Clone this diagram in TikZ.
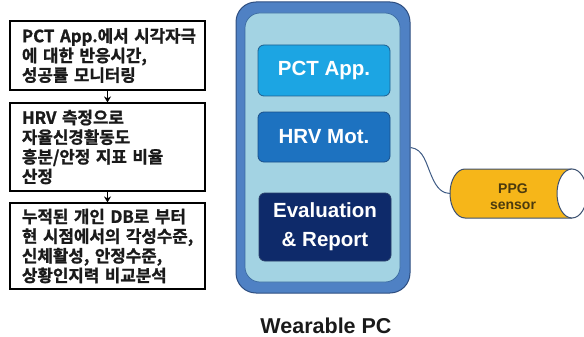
\documentclass[tikz,border=0pt]{standalone}
\usepackage{fontspec}
\setmainfont{Liberation Sans}
\newfontfamily\kr{Noto Sans CJK KR Bold}[FakeBold=1.2, WordSpace=1.6]
\usetikzlibrary{arrows.meta}
\definecolor{bandc}{HTML}{4F81C4}
\definecolor{bandd}{HTML}{2E4E80}
\definecolor{innerc}{HTML}{A3D3E3}
\definecolor{innerd}{HTML}{3A6AA0}
\definecolor{pctc}{HTML}{1CA5E3}
\definecolor{pctd}{HTML}{1F5F8F}
\definecolor{hrvc}{HTML}{1D72C0}
\definecolor{hrvd}{HTML}{1A4F8A}
\definecolor{evalc}{HTML}{0E2A6A}
\definecolor{evald}{HTML}{2A3F6A}
\definecolor{ppgc}{HTML}{F6B619}
\definecolor{ppgd}{HTML}{3C5070}
\definecolor{ppgt}{HTML}{4B3A0E}
\definecolor{wirec}{HTML}{3F5C85}
\definecolor{txt}{HTML}{1A1A1A}
\begin{document}
\begin{tikzpicture}[x=1pt,y={(0pt,-1pt)},
  lbox/.style={draw=black, line width=1.1pt, fill=white, text=txt,
    text width=171pt, inner xsep=12pt, inner ysep=0pt, align=left,
    minimum width=195pt, font=\kr\fontsize{16.8}{19.6}\selectfont},
  rbox/.style={rounded corners=6pt, line width=0.8pt, text=white,
    minimum width=132pt, align=center, inner sep=0pt,
    font=\bfseries\fontsize{20.5}{29}\selectfont},
  flowarrow/.style={line width=1pt, -{Stealth[length=6pt,width=7pt]}}
]
\useasboundingbox (0,0) rectangle (584,337);
\clip (0,0) rectangle (584,337);

% left flow
\node[lbox, minimum height=69pt] (b1) at (107.5,55.5)
  {\mbox{PCT App.에서 시각자극}\\\mbox{에 대한 반응시간,}\\\mbox{성공률 모니터링}};
\node[lbox, minimum height=88pt] (b2) at (107.5,147)
  {\mbox{HRV 측정으로}\\\mbox{자율신경활동도}\\\mbox{흥분/안정 지표 비율}\\\mbox{산정}};
\node[lbox, minimum height=86pt] (b3) at (107.5,246)
  {\mbox{누적된 개인 DB로 부터}\\\mbox{현 시점에서의 각성수준,}\\\mbox{신체활성, 안정수준,}\\\mbox{상황인지력 비교분석}};
\draw[flowarrow] (b1.south) -- (b2.north);
\draw[flowarrow] (b2.south) -- (b3.north);

% wearable PC
\node[draw=bandd, fill=bandc, line width=1pt, rounded corners=20pt,
  minimum width=174pt, minimum height=291pt, inner sep=0pt] (pc) at (323,147.5) {};
\node[draw=innerd, fill=innerc, line width=0.7pt, rounded corners=15pt,
  minimum width=155pt, minimum height=269pt, inner sep=0pt] (pcin) at (322.5,147.5) {};
\node[rbox, fill=pctc, draw=pctd, minimum height=51pt] (pct) at (324,70.5) {PCT App.};
\node[rbox, fill=hrvc, draw=hrvd, minimum height=50pt] (hrv) at (324,137) {HRV Mot.};
\node[rbox, fill=evalc, draw=evald, minimum height=68pt] (eval) at (325,227) {Evaluation\\\& Report};
\node[text=txt, font=\bfseries\fontsize{21.5}{24}\selectfont] (wlab) at (326,326) {Wearable PC};

% PPG sensor
\draw[fill=ppgc, draw=ppgd, line width=1pt]
  (572,169) -- (465,169) arc[start angle=270, end angle=90, x radius=15, y radius=24.5]
  -- (572,218);
\draw[fill=white, draw=ppgd, line width=1pt] (572,193.5) ellipse[x radius=15, y radius=24.5];
\node[text=ppgt, font=\bfseries\fontsize{14}{16}\selectfont, align=center] (ppg) at (513,197) {PPG\\sensor};
\coordinate (ppgw) at (450,193.5);

% wire
\draw[wirec, line width=1pt] (pc.east) .. controls (424,149) and (426,164) .. (432,177)
  .. controls (437,189) and (443,193.5) .. (ppgw);
\end{tikzpicture}
\end{document}
